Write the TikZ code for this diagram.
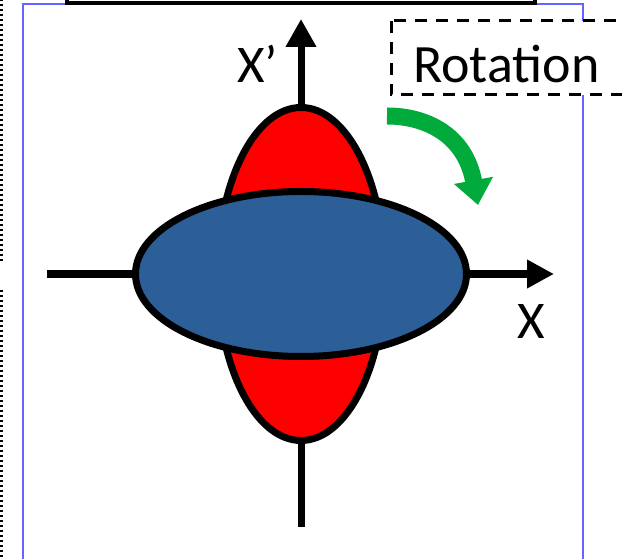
\documentclass[tikz,border=0pt]{standalone}
\usepackage{fontspec}
\setmainfont{Carlito}
\usetikzlibrary{arrows.meta}
\definecolor{ellblue}{RGB}{44,95,152}
\definecolor{rotgreen}{RGB}{0,170,59}
\definecolor{frameblue}{RGB}{100,100,255}
\begin{document}
\begin{tikzpicture}[x=1pt,y=1pt,
  axisline/.style={line width=7pt,-{Triangle[width=29pt,length=28pt]}},
  ellline/.style={line width=7pt,draw=black},
  lbl/.style={inner sep=0pt,font=\fontsize{53}{60}\selectfont,anchor=base west},
  rotframe/.style={line width=3pt,dash pattern=on 12pt off 9pt,fill=white},
  dotline/.style={line width=2.5pt,dash pattern=on 2.5pt off 2.5pt},
  rotarrow/.style={rotgreen,line width=17pt,-{Triangle[width=38pt,length=25pt]}}]
\useasboundingbox (0,0) rectangle (622,559);
% outer frame
\draw[frameblue,line width=1.3pt] (23,-5) -- (23,555) -- (583,555) -- (583,-5);
% top box
\draw[line width=4.5pt,fill=white] (67,556) rectangle (535,600);
% dotted left line
\draw[dotline] (1.5,565) -- (1.5,296);
\draw[dotline] (1.5,269) -- (1.5,-5);
% rotation box
\draw[rotframe] (391,538) rectangle (650,464);
\node (rot) [lbl,font=\fontsize{54}{60}\selectfont] at (413,476) {Rotation};
% axes
\coordinate (ybot) at (301,32);
\coordinate (ytop) at (301,540);
\coordinate (xleft) at (47,285);
\coordinate (xright) at (554,285);
\coordinate (c) at (301,285);
\draw[axisline] (ybot) -- (ytop);
\draw[line width=8pt,-{Triangle[width=27pt,length=27pt]}] (xleft) -- (xright);
% ellipses
\draw[ellline,fill=red] (c) ellipse [x radius=83.5,y radius=166.5];
\draw[ellline,fill=ellblue] (c) ellipse [x radius=165.5,y radius=82.5];
% labels
\node (xp) [lbl] at (237,476) {X’};
\node (xx) [lbl] at (517,220) {X};
% rotation arrow
\coordinate (ga) at (387,443);
\coordinate (gb) at (478,354);
\draw[rotarrow] (ga) .. controls (425,443) and (465,425) .. (gb);
\end{tikzpicture}
\end{document}
